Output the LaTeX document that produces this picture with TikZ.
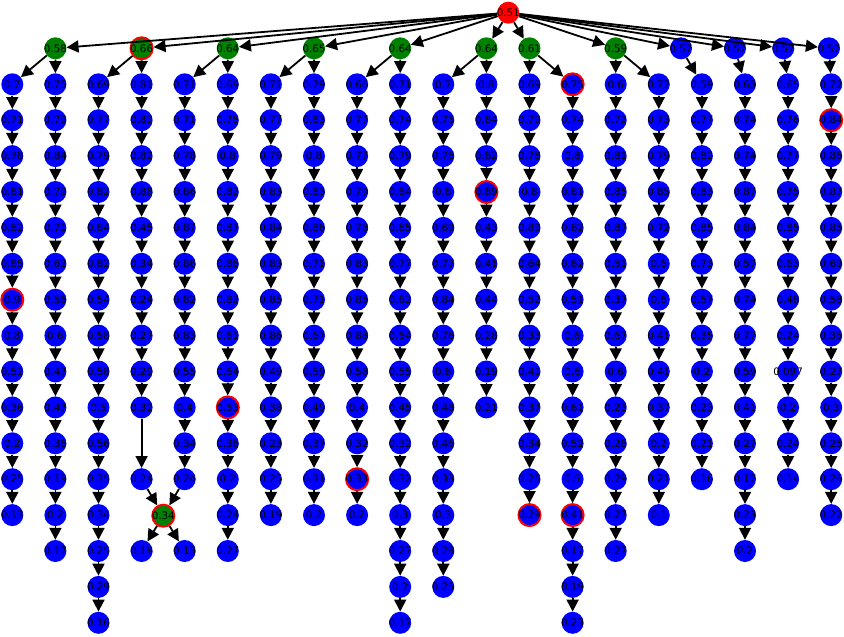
\documentclass[tikz,border=0pt]{standalone}
\usepackage{fontspec}
\setmainfont{DejaVu Sans}
\usetikzlibrary{arrows.meta}
\newcommand\zw[1]{\makebox[0pt]{#1}}
\tikzset{
  nd/.style={circle, minimum size=22pt, inner sep=0pt, font=\fontsize{10.3}{12}\selectfont, text=black},
  bn/.style={nd, fill=blue},
  rn/.style={nd, fill=blue, draw=red, line width=2pt},
  gn/.style={nd, fill=green!50!black},
  grn/.style={gn, draw=red, line width=2pt},
  rootn/.style={nd, fill=red},
  arr/.style={-{Triangle[length=12pt,width=12pt]}, line width=1.8pt, draw=black},
}
\newcommand\chaincol[2]{%
  \foreach \lab/\sty [count=\i from 0] in {#2} {%
    \node[\sty] (c#1r\i) at ({12.3+43.1*#1},{-84.3-35.9*\i}) {\zw{\lab}};
    \ifnum\i>0
      \pgfmathtruncatemacro\p{\i-1}
      \draw[arr] (c#1r\p) -- (c#1r\i);
    \fi
  }}
\begin{document}
\begin{tikzpicture}[x=1pt,y=1pt]
\useasboundingbox (0,0) rectangle (844,-637);
% root and first level
\node[rootn] (root) at (508.3,-12.7) {\zw{0.51}};
\node[gn]  (g0)  at (55.4,-48.3)  {\zw{0.58}};
\node[grn] (g1)  at (141.6,-48.3) {\zw{0.66}};
\node[gn]  (g2)  at (227.8,-48.3) {\zw{0.64}};
\node[gn]  (g3)  at (314.0,-48.3) {\zw{0.65}};
\node[gn]  (g4)  at (400.2,-48.3) {\zw{0.64}};
\node[gn]  (g5)  at (486.4,-48.3) {\zw{0.64}};
\node[gn]  (g6)  at (529.5,-48.3) {\zw{0.61}};
\node[gn]  (g7)  at (615.7,-48.3) {\zw{0.59}};
\node[bn]  (g8)  at (681.0,-48.3) {\zw{0.57}};
\node[bn]  (g9)  at (735.0,-48.3) {\zw{0.57}};
\node[bn]  (g10) at (783.3,-48.3) {\zw{0.57}};
\node[bn]  (g11) at (829.0,-48.3) {\zw{0.57}};
\foreach \g in {0,...,11} \draw[arr] (root) -- (g\g);
% chains
\chaincol{0}{0.7/bn,0.71/bn,0.78/bn,0.81/bn,0.82/bn,0.85/bn,0.9/rn,0.8/bn,0.52/bn,0.36/bn,0.2/bn,0.25/bn,0.13/bn}
\chaincol{1}{0.75/bn,0.79/bn,0.84/bn,0.79/bn,0.71/bn,0.62/bn,0.56/bn,0.6/bn,0.47/bn,0.47/bn,0.36/bn,0.19/bn,0.2/bn,0.17/bn}
\chaincol{2}{0.69/bn,0.77/bn,0.79/bn,0.82/bn,0.84/bn,0.82/bn,0.54/bn,0.58/bn,0.58/bn,0.5/bn,0.56/bn,0.35/bn,0.34/bn,0.25/bn,0.29/bn,0.16/bn}
\chaincol{3}{0.81/bn,0.82/bn,0.82/bn,0.88/bn,0.45/bn,0.34/bn,0.24/bn,0.27/bn,0.29/bn,0.32/bn}
\chaincol{4}{0.71/bn,0.71/bn,0.78/bn,0.86/bn,0.87/bn,0.86/bn,0.82/bn,0.83/bn,0.55/bn,0.4/bn,0.34/bn,0.24/bn}
\chaincol{5}{0.69/bn,0.75/bn,0.8/bn,0.82/bn,0.87/bn,0.86/bn,0.82/bn,0.61/bn,0.64/bn,0.53/rn,0.36/bn,0.2/bn,0.24/bn,0.27/bn}
\chaincol{6}{0.71/bn,0.77/bn,0.79/bn,0.83/bn,0.84/bn,0.83/bn,0.85/bn,0.86/bn,0.49/bn,0.38/bn,0.23/bn,0.25/bn,0.19/bn}
\chaincol{7}{0.79/bn,0.83/bn,0.8/bn,0.83/bn,0.86/bn,0.71/bn,0.71/bn,0.67/bn,0.59/bn,0.49/bn,0.37/bn,0.31/bn,0.2/bn}
\chaincol{8}{0.66/bn,0.77/bn,0.77/bn,0.79/bn,0.78/bn,0.83/bn,0.85/bn,0.88/bn,0.58/bn,0.4/bn,0.32/bn,0.33/rn,0.2/bn}
\chaincol{9}{0.71/bn,0.74/bn,0.79/bn,0.84/bn,0.85/bn,0.77/bn,0.62/bn,0.54/bn,0.55/bn,0.45/bn,0.32/bn,0.32/bn,0.3/bn,0.27/bn,0.2/bn,0.17/bn}
\chaincol{10}{0.7/bn,0.75/bn,0.76/bn,0.8/bn,0.69/bn,0.77/bn,0.84/bn,0.76/bn,0.8/bn,0.48/bn,0.46/bn,0.33/bn,0.3/bn,0.28/bn,0.25/bn}
\chaincol{11}{0.8/bn,0.84/bn,0.82/bn,0.89/rn,0.43/bn,0.41/bn,0.44/bn,0.28/bn,0.19/bn,0.21/bn}
\chaincol{12}{0.69/bn,0.79/bn,0.78/bn,0.8/bn,0.89/bn,0.64/bn,0.52/bn,0.33/bn,0.41/bn,0.37/bn,0.34/bn,0.25/bn,0.29/rn}
\chaincol{13}{0.75/rn,0.74/bn,0.8/bn,0.81/bn,0.82/bn,0.62/bn,0.51/bn,0.6/bn,0.6/bn,0.61/bn,0.52/bn,0.5/bn,0.41/rn,0.17/bn,0.19/bn,0.23/bn}
\chaincol{14}{0.6/bn,0.72/bn,0.81/bn,0.85/bn,0.87/bn,0.51/bn,0.37/bn,0.67/bn,0.6/bn,0.23/bn,0.26/bn,0.29/bn,0.27/bn,0.27/bn}
\chaincol{15}{0.72/bn,0.73/bn,0.79/bn,0.85/bn,0.72/bn,0.6/bn,0.6/bn,0.41/bn,0.41/bn,0.37/bn,0.2/bn,0.21/bn,0.1/bn}
\chaincol{16}{0.59/bn,0.77/bn,0.82/bn,0.83/bn,0.85/bn,0.73/bn,0.57/bn,0.35/bn,0.2/bn,0.23/bn,0.21/bn,0.16/bn}
\chaincol{17}{0.63/bn,0.74/bn,0.74/bn,0.87/bn,0.84/bn,0.57/bn,0.74/bn,0.77/bn,0.59/bn,0.41/bn,0.27/bn,0.17/bn,0.23/bn,0.2/bn}
\chaincol{18}{0.65/bn,0.76/bn,0.77/bn,0.75/bn,0.85/bn,0.63/bn,0.48/bn,0.24/bn,0.097/bn,0.2/bn,0.24/bn,0.14/bn}
\chaincol{19}{0.72/bn,0.84/rn,0.86/bn,0.87/bn,0.85/bn,0.69/bn,0.58/bn,0.35/bn,0.27/bn,0.3/bn,0.25/bn,0.26/bn,0.22/bn}
% level-one to chain heads
\draw[arr] (g0) -- (c0r0);  \draw[arr] (g0) -- (c1r0);
\draw[arr] (g1) -- (c2r0);  \draw[arr] (g1) -- (c3r0);
\draw[arr] (g2) -- (c4r0);  \draw[arr] (g2) -- (c5r0);
\draw[arr] (g3) -- (c6r0);  \draw[arr] (g3) -- (c7r0);
\draw[arr] (g4) -- (c8r0);  \draw[arr] (g4) -- (c9r0);
\draw[arr] (g5) -- (c10r0); \draw[arr] (g5) -- (c11r0);
\draw[arr] (g6) -- (c12r0); \draw[arr] (g6) -- (c13r0);
\draw[arr] (g7) -- (c14r0); \draw[arr] (g7) -- (c15r0);
\draw[arr] (g8) -- (c16r0);
\draw[arr] (g9) -- (c17r0);
\draw[arr] (g10) -- (c18r0);
\draw[arr] (g11) -- (c19r0);
% merge in columns 3 and 4
\node[bn] (c3r11) at ({12.3+43.1*3},{-84.3-35.9*11}) {\zw{0.24}};
\node[bn] (c3r13) at ({12.3+43.1*3},{-84.3-35.9*13}) {\zw{0.18}};
\node[bn] (c4r13) at ({12.3+43.1*4},{-84.3-35.9*13}) {\zw{0.13}};
\node[grn] (m) at (163.3,-515.7) {\zw{0.34}};
\draw[arr] (c3r9) -- (c3r11);
\draw[arr] (c3r11) -- (m);
\draw[arr] (c4r11) -- (m);
\draw[arr] (m) -- (c3r13);
\draw[arr] (m) -- (c4r13);
\end{tikzpicture}
\end{document}
